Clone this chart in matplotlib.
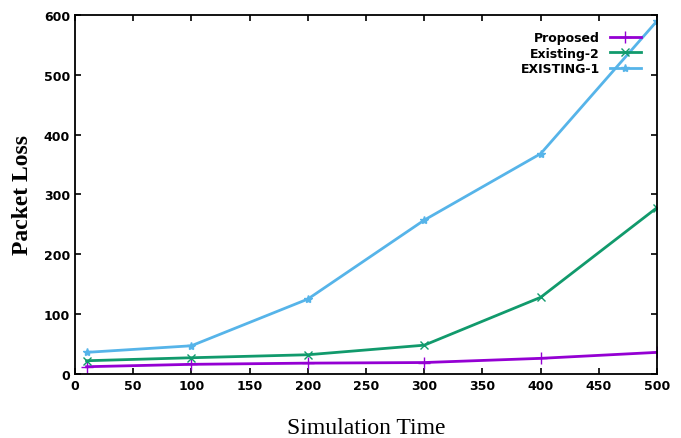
import matplotlib.pyplot as plt

time = [10, 100, 200, 300, 400, 500]
proposed = [12, 16, 18, 19, 26, 36]
existing2 = [22, 27, 32, 48, 128, 278]
existing1 = [36, 47, 125, 257, 368, 590]

fig = plt.figure(figsize=(6.81, 4.39), dpi=100)
ax = fig.add_axes([0.110, 0.146, 0.855, 0.818])

ax.plot(time, proposed, color='#9400d3', marker='+', ms=8, lw=2, label='Proposed')
ax.plot(time, existing2, color='#119a6c', marker='x', ms=6, lw=2, label='Existing-2')
ax.plot(time, existing1, color='#56b4e9', marker='*', ms=6, lw=2, label='EXISTING-1')

ax.set_xlim(0, 500)
ax.set_ylim(0, 600)
ax.set_xticks(range(0, 501, 50))
ax.set_yticks(range(0, 601, 100))
ax.tick_params(direction='in', top=True, right=True, length=4, width=1.2)
for lbl in ax.get_xticklabels() + ax.get_yticklabels():
    lbl.set_fontweight('bold')
    lbl.set_fontsize(9)
for s in ax.spines.values():
    s.set_linewidth(1.3)

ax.set_xlabel('Simulation Time', family='Liberation Serif', fontsize=17, labelpad=18)
ax.set_ylabel('Packet Loss', family='Liberation Serif', fontsize=17, fontweight='bold', labelpad=8)

leg = ax.legend(loc='upper right', markerfirst=False, frameon=False, handlelength=2.5,
                fontsize=9, borderaxespad=0.9, labelspacing=0.2)
for t in leg.get_texts():
    t.set_fontweight('bold')
    t.set_ha('right')

fig.savefig('out.png', dpi=100)
